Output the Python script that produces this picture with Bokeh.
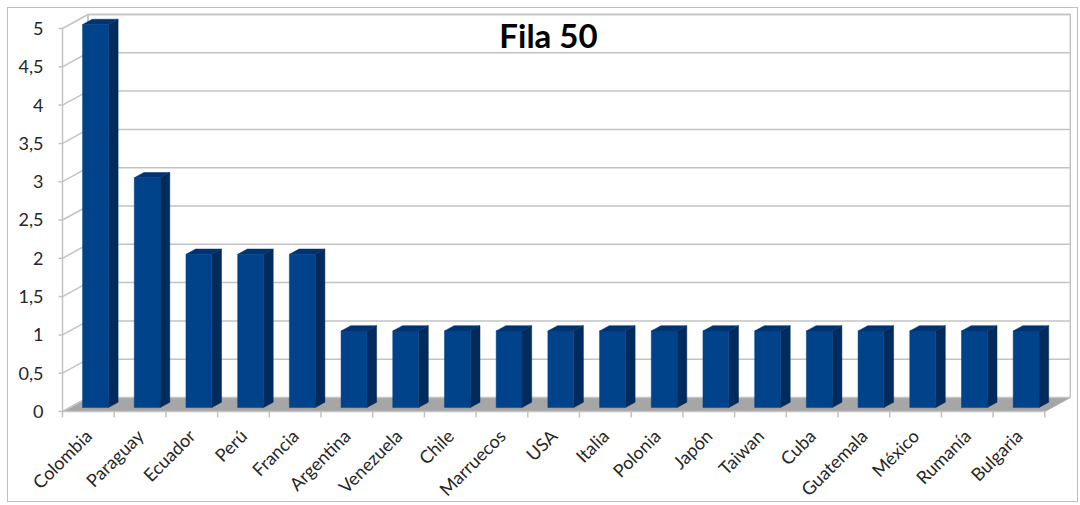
import math
from bokeh.plotting import figure
from bokeh.models import Range1d, Label
from bokeh.core.properties import value
from bokeh.embed import file_html
from bokeh.resources import INLINE

# ---- data ----
countries = ["Colombia", "Paraguay", "Ecuador", "Perú", "Francia", "Argentina",
             "Venezuela", "Chile", "Marruecos", "USA", "Italia", "Polonia",
             "Japón", "Taiwan", "Cuba", "Guatemala", "México", "Rumanía", "Bulgaria"]
counts = [5, 3, 2, 2, 2, 1, 1, 1, 1, 1, 1, 1, 1, 1, 1, 1, 1, 1, 1]
y_ticks = [0, 0.5, 1, 1.5, 2, 2.5, 3, 3.5, 4, 4.5, 5]
y_tick_labels = ["0", "0,5", "1", "1,5", "2", "2,5", "3", "3,5", "4", "4,5", "5"]
title_text = "Fila 50"

# ---- styling / 3D geometry (in data units) ----
FONT = "Lato"
GRID = "#c3c3c3"
TEXT = "#262626"
FRONT = "#00438a"
SIDE = "#002b5c"
TOP = "#003370"
FLOOR = "#a6a6a6"
PX_X, PX_Y = 51.7, 76.6    # pixels per unit (used only for small offsets)
DX, DY = 0.493, 0.183      # depth of the chart box
T1, T2 = 0.28, 0.66        # bar depth (fraction of box depth)
BL, BR = 0.25, 0.75        # bar extent within category
n = len(countries)
ymax = max(y_ticks)

p = figure(width=1071, height=495,
           x_range=Range1d(-1.0445, 19.671), y_range=Range1d(-1.201, 5.261),
           output_backend="svg", toolbar_location=None,
           x_axis_location=None, y_axis_location=None,
           min_border_left=0, min_border_right=0,
           min_border_top=0, min_border_bottom=0)
p.margin = (7, 0, 0, 7)
p.styles = {"border": "1px solid #bfbfbf"}
p.outline_line_color = None
p.xgrid.visible = False
p.ygrid.visible = False
p.background_fill_color = "white"

# floor
p.patch([0, n, n + DX, DX], [0, 0, DY, DY], fill_color=FLOOR, line_color=FLOOR)
# back wall
p.patch([DX, n + DX, n + DX, DX], [DY, DY, ymax + DY, ymax + DY],
        fill_color="white", line_color=GRID, line_width=1.5)
# back wall gridlines and left wall lines
gx0, gx1, gy = [], [], []
for t in y_ticks[1:]:
    gx0.append(DX); gx1.append(n + DX); gy.append(t + DY)
p.segment(x0=gx0, y0=gy, x1=gx1, y1=gy, line_color=GRID, line_width=1.5)
p.segment(x0=[0] * len(y_ticks), y0=y_ticks, x1=[DX] * len(y_ticks),
          y1=[t + DY for t in y_ticks], line_color=GRID, line_width=1.5)
p.segment(x0=[DX], y0=[DY], x1=[DX], y1=[ymax + DY], line_color=GRID, line_width=1.5)

# bars
fl, fr, fb, ft = [], [], [], []
sxs, sys, txs, tys = [], [], [], []
for i, v in enumerate(counts):
    l1, r1 = i + BL + T1 * DX, i + BR + T1 * DX
    l2, r2 = i + BL + T2 * DX, i + BR + T2 * DX
    b1, b2 = T1 * DY, T2 * DY
    fl.append(l1); fr.append(r1); fb.append(b1); ft.append(v + b1)
    sxs.append([r1, r2, r2, r1]); sys.append([b1, b2, v + b2, v + b1])
    txs.append([l1, r1, r2, l2]); tys.append([v + b1, v + b1, v + b2, v + b2])
p.patches(sxs, sys, fill_color=SIDE, line_color=SIDE, line_width=0.5)
p.patches(txs, tys, fill_color=TOP, line_color=TOP, line_width=0.5)
p.quad(left=fl, right=fr, bottom=fb, top=ft, fill_color=FRONT, line_color=FRONT, line_width=0.5)

# category axis (front floor edge, boundary ticks, rotated labels)
p.segment(x0=[0], y0=[0], x1=[n], y1=[0], line_color=GRID, line_width=1.5)
bounds_x = list(range(n + 1))
p.segment(x0=bounds_x, y0=[0] * (n + 1), x1=bounds_x, y1=[-6 / PX_Y] * (n + 1),
          line_color=GRID, line_width=1.5)
centers = [i + 0.5 for i in range(n)]
p.text(x=centers, y=[-21 / PX_Y] * n, text=countries, angle=math.pi / 4,
       text_align="right", text_baseline="middle",
       text_font=value(FONT), text_font_size="18px", text_color=TEXT)

# value axis (front left edge, ticks, labels)
p.segment(x0=[0], y0=[0], x1=[0], y1=[ymax], line_color=GRID, line_width=1.5)
p.segment(x0=[0] * len(y_ticks), y0=y_ticks, x1=[-4 / PX_X] * len(y_ticks), y1=y_ticks,
          line_color=GRID, line_width=1.5)
p.text(x=[-19 / PX_X] * len(y_ticks), y=y_ticks, text=y_tick_labels,
       text_align="right", text_baseline="middle",
       text_font=value(FONT), text_font_size="18px", text_color=TEXT)

# title
p.add_layout(Label(x=9.40, y=4.909, text=title_text, text_align="center",
                   text_baseline="alphabetic", text_font=FONT,
                   text_font_style="bold", text_font_size="33px",
                   text_color="black"))

open("out.html", "w").write(file_html(p, INLINE))
